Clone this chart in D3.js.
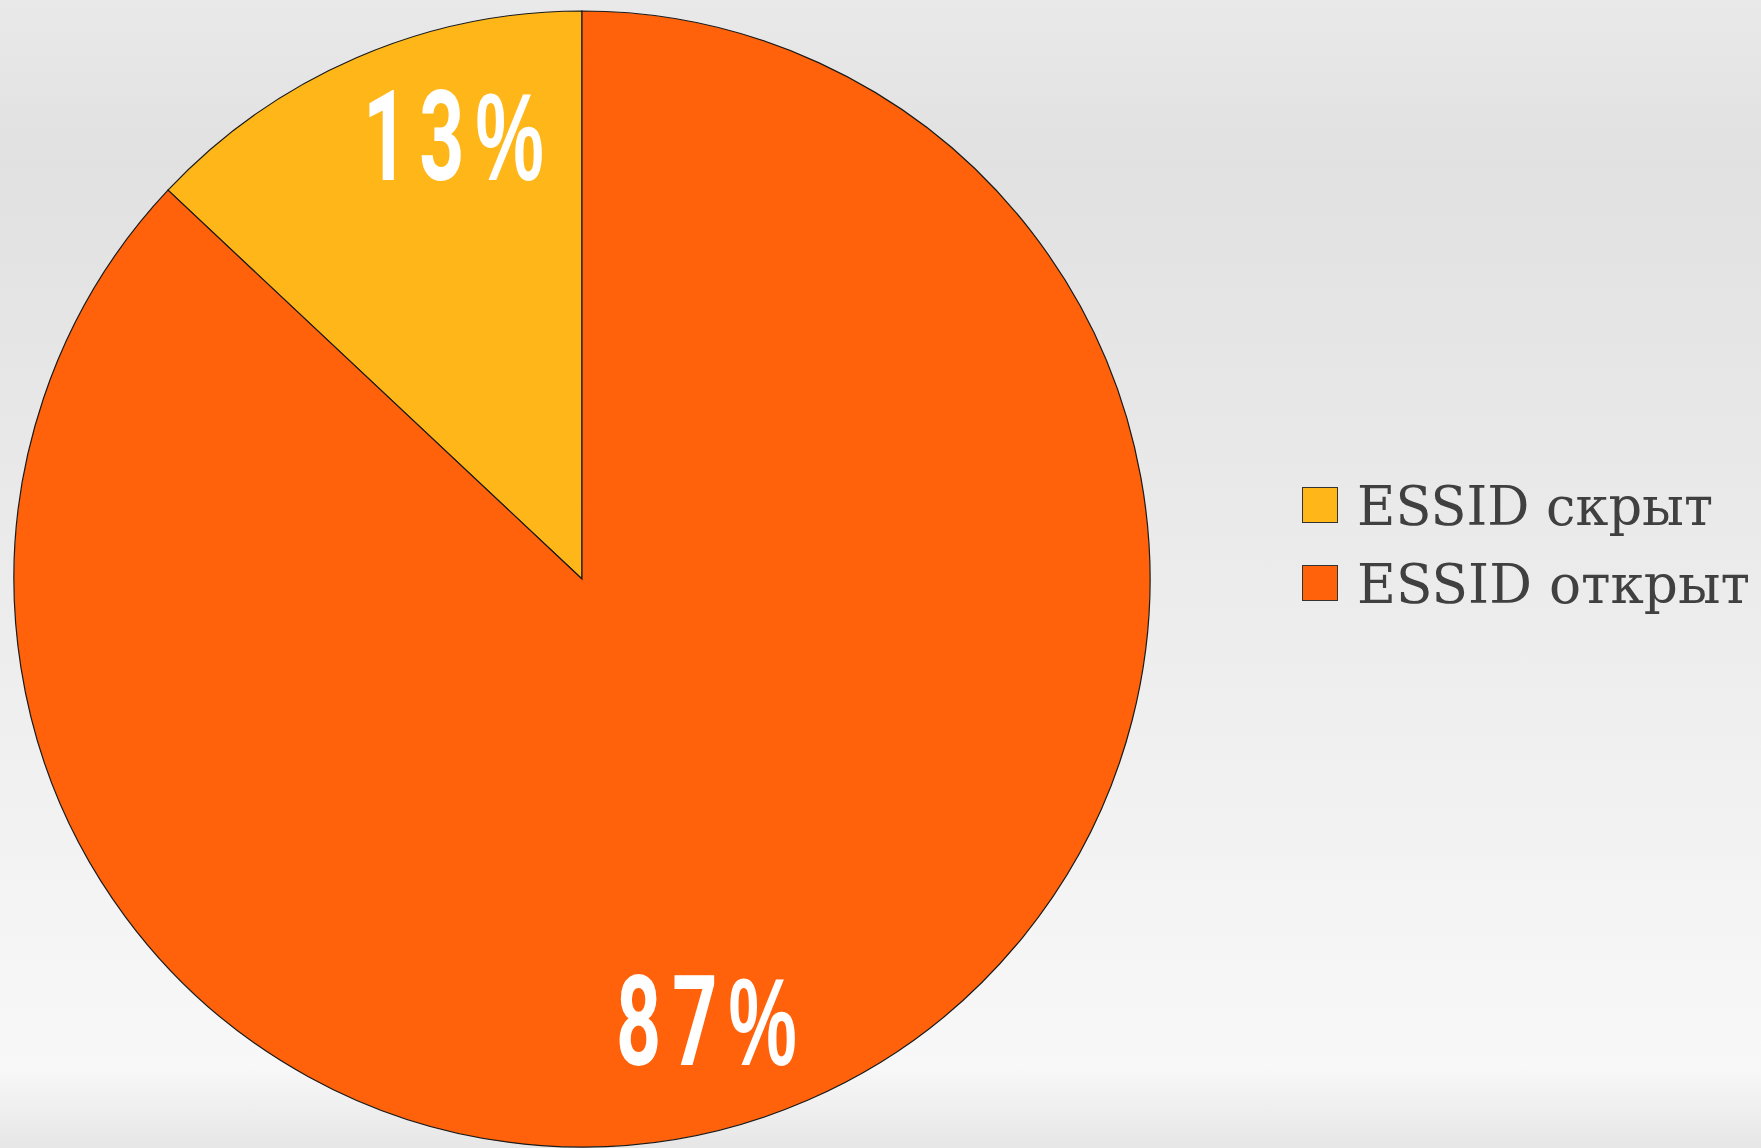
<!DOCTYPE html>
<html><head><meta charset="utf-8">
<script src="https://cdn.jsdelivr.net/npm/d3@7"></script>
<style>html,body{margin:0;padding:0;overflow:hidden}</style>
</head><body>
<script>
const categories = ["ESSID скрыт", "ESSID открыт"];
const values = [13, 87];
const labels = ["13%", "87%"];
const colors = ["#FFB619", "#FF620A"];

const W = 1761, H = 1148;
const svg = d3.select("body").append("svg").attr("width", W).attr("height", H);
const defs = svg.append("defs");
const grad = defs.append("linearGradient").attr("id","bg").attr("x1",0).attr("y1",0).attr("x2",0).attr("y2",1);
[[0,"#e9e9e9"],[0.14,"#e1e1e1"],[0.93,"#f8f8f8"],[1,"#e6e6e6"]].forEach(([o,c])=>grad.append("stop").attr("offset",o).attr("stop-color",c));
svg.append("rect").attr("width",W).attr("height",H).attr("fill","url(#bg)");

const cx = 582, cy = 579, r = 568;
const total = d3.sum(values);
const pie = d3.pie().sort(null).value(d=>d)
  .startAngle(-2*Math.PI*values[0]/total).endAngle(2*Math.PI - 2*Math.PI*values[0]/total);
const arcs = pie(values);
const arc = d3.arc().innerRadius(0).outerRadius(r);
const g = svg.append("g").attr("transform",`translate(${cx},${cy})`);
g.selectAll("path").data(arcs).join("path")
  .attr("d",arc).attr("fill",(d,i)=>colors[i]).attr("stroke","#1a1a1a").attr("stroke-width",1.2);

// labels
const labelPos = [[459-cx,180-cy],[712-cx,1065-cy]];
arcs.forEach((d,i)=>{
  const t = g.append("text").attr("transform",`translate(${labelPos[i][0]},${labelPos[i][1]}) scale(0.62,1)`)
    .attr("text-anchor","middle").attr("fill","#fff")
    .style("font-weight","700").style("font-size","127px")
    .style("letter-spacing","18px");
  const s = labels[i];
  t.append("tspan").style("font-family","Roboto").text(s.slice(0,-1));
  t.append("tspan").style("font-family","Liberation Sans").style("font-size","124px").text(s.slice(-1));
});

// legend
const lg = svg.append("g");
categories.forEach((c,i)=>{
  const y0 = 487 + i*78;
  lg.append("rect").attr("x",1302.5).attr("y",y0+0.5).attr("width",35).attr("height",35)
    .attr("fill",colors[i]).attr("stroke","#333").attr("stroke-width",1);
  lg.append("text").attr("x",1357).attr("y",y0+38).attr("fill","#404040")
    .style("font-family","DejaVu Serif").style("font-size","55px")
    .attr("textLength", i===0?356:393).attr("lengthAdjust","spacingAndGlyphs").text(c);
});
</script>
</body></html>
